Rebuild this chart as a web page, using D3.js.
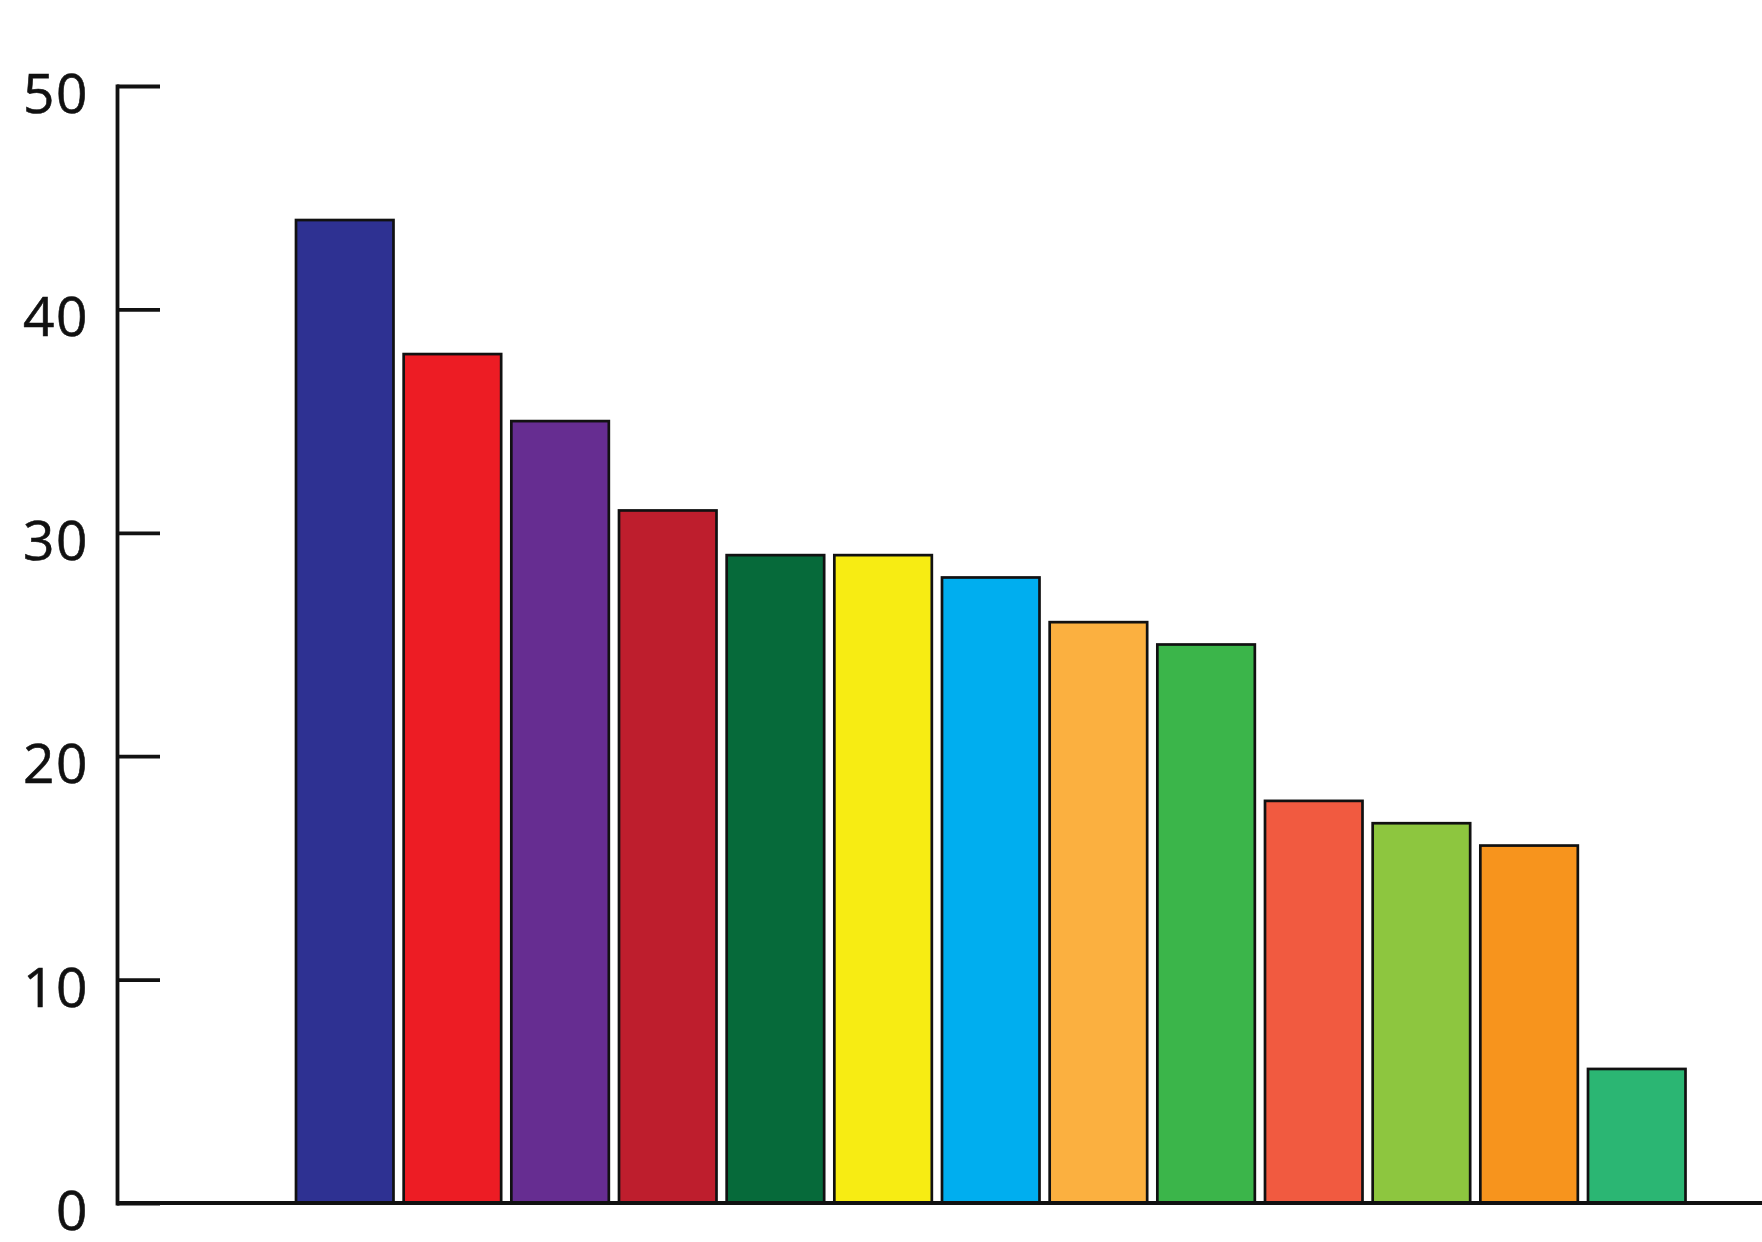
<!DOCTYPE html>
<html>
<head>
<meta charset="utf-8">
<script src="https://cdn.jsdelivr.net/npm/d3@7"></script>
<style>
html,body{margin:0;padding:0;background:#fff;}
svg{display:block;}
</style>
</head>
<body>
<script>
const categories = ["A","B","C","D","E","F","G","H","I","J","K","L","M"];
const values = [44, 38, 35, 31, 29, 29, 28, 26, 25, 18, 17, 16, 6];
const colors = ["#2E3192","#ED1C24","#662D91","#BE1E2D","#066A3A","#F7EC13","#00AEEF","#FBB040","#3BB54A","#F15A40","#8DC63F","#F7941D","#2BB673"];
const tickValues = [0, 10, 20, 30, 40, 50];

const W = 1762, H = 1242;
const svg = d3.select("body").append("svg").attr("width", W).attr("height", H);

const y = d3.scaleLinear().domain([0, 50]).range([1203, 86]);
const x = d3.scaleBand().domain(categories).range([296, 1685.5]).paddingInner(0.0945).paddingOuter(0);

// bars
svg.append("g").selectAll("rect").data(values).join("rect")
  .attr("x", (d, i) => x(categories[i]))
  .attr("y", d => y(d))
  .attr("width", x.bandwidth())
  .attr("height", d => y(0) - y(d))
  .attr("fill", (d, i) => colors[i])
  .attr("stroke", "#111")
  .attr("stroke-width", 2.7);

// x axis baseline
svg.append("line")
  .attr("x1", 117).attr("x2", W)
  .attr("y1", y(0)).attr("y2", y(0))
  .attr("stroke", "#111").attr("stroke-width", 3.8);

// y axis
const yAxis = d3.axisLeft(y).tickValues(tickValues).tickSizeInner(-43).tickSizeOuter(0).tickPadding(28).tickFormat(d3.format("d"));
const gy = svg.append("g").attr("transform", "translate(117,0)").call(yAxis);
gy.select(".domain").attr("stroke", "#111").attr("stroke-width", 3.8).attr("stroke-linecap", "square");
gy.selectAll(".tick line").attr("stroke", "#111").attr("stroke-width", 3.8);
gy.selectAll(".tick text")
  .attr("fill", "#111")
  .attr("font-family", "'Open Sans', 'Noto Sans', sans-serif")
  .attr("font-size", 55)
  .attr("letter-spacing", 1.5)
  .attr("stroke", "#111")
  .attr("stroke-width", 0.6)
  .attr("dy", "0.48em");
</script>
</body>
</html>
